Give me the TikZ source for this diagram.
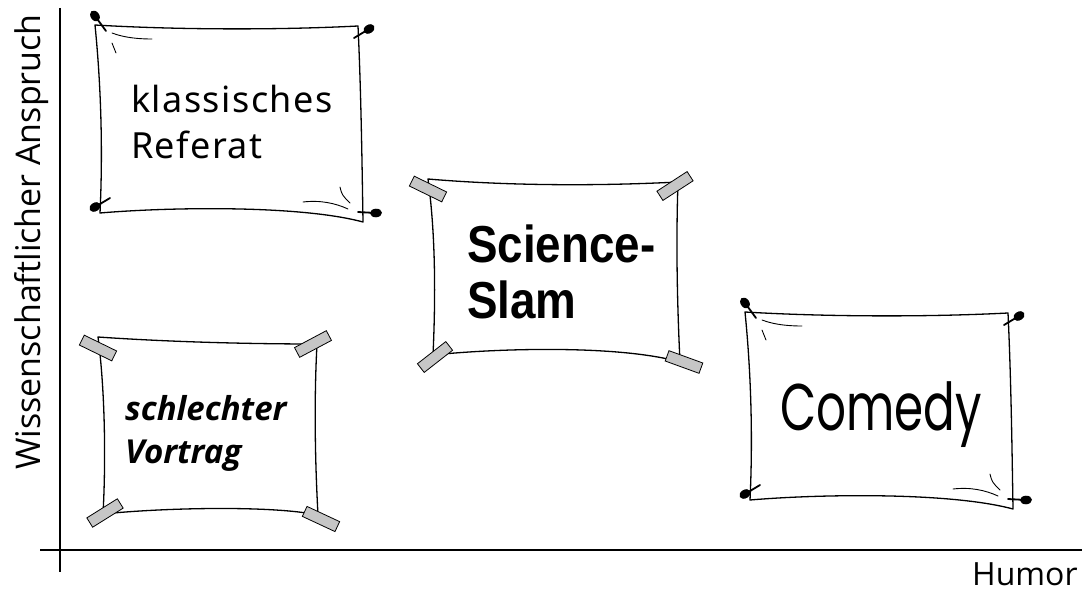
\documentclass[tikz,border=0pt]{standalone}
\usepackage{fontspec}
\newfontfamily\axisfont{Open Sans}
\newfontfamily\handfont[LetterSpace=4]{Noto Sans}
\newfontfamily\slamfont[FakeStretch=0.88]{Liberation Sans}
\newfontfamily\badfont{Open Sans}
\newfontfamily\comedyfont[FakeStretch=0.71]{Poppins}
\newcommand\pinat[3]{%
  \draw[needle] (#1) -- (#2);
  \fill[rotate around={#3:(#1)}] (#1) ellipse (6 and 4.3);}
\tikzset{
  axisline/.style={draw=black, line width=1.3pt},
  paperline/.style={draw=black, line width=1.3pt, fill=white, line join=round},
  crease/.style={draw=black, line width=0.9pt, line cap=round},
  needle/.style={draw=black, line width=1.8pt, line cap=round},
  tapebox/.style={draw=black, line width=0.8pt, fill=gray!45, minimum width=36pt, minimum height=11pt, inner sep=0pt},
  pinpaper/.pic={
    \path[paperline] (0,0) .. controls (85,5) and (185,5) .. (263,1)
      .. controls (266,65) and (267,135) .. (268,197)
      .. controls (205,180) and (75,182) .. (5,188)
      .. controls (8,125) and (6,60) .. (0,0) -- cycle;
    \draw[crease] (17,8) .. controls (30,13) and (45,14) .. (57,14);
    \draw[crease] (17,18) -- (21,28);
    \draw[crease] (208,177) .. controls (225,175) and (240,178) .. (253,184);
    \draw[crease] (245,162) .. controls (247,170) .. (255,178);
    \pinat{0,-9}{11,6}{-54}
    \pinat{274,4}{259,13}{31}
    \pinat{0,182}{15,173}{31}
    \pinat{281,188}{263,187}{3}
  }
}
\begin{document}
\begin{tikzpicture}[x=1pt,y=-1pt]
\useasboundingbox (0,0) rectangle (1086,594);
% axes
\coordinate (ytop) at (60,8);
\coordinate (ybot) at (60,572);
\coordinate (xleft) at (40,550);
\coordinate (xright) at (1082,550);
\draw[axisline] (ytop) -- (ybot);
\draw[axisline] (xleft) -- (xright);
\node[rotate=90, anchor=base, inner sep=0pt, font={\axisfont\fontsize{34}{40}\selectfont}] (ylabel) at (40,242) {Wissenschaftlicher Anspruch};
\node[anchor=base west, inner sep=0pt, font={\axisfont\fontsize{32}{38}\selectfont}] (xlabel) at (972,585) {Humor};

% klassisches Referat
\pic at (95,25) {pinpaper};
\node[anchor=base west, inner sep=0pt, align=left, font={\handfont\fontsize{36}{46}\selectfont}] (referat) at (131,158) {klassisches\\Referat};

% Comedy
\pic at (745,312) {pinpaper};
\node[anchor=base west, inner sep=0pt, font={\comedyfont\fontsize{66}{70}\selectfont}] (comedy) at (780,430) {Comedy};

% Science-Slam
\path[paperline] (428,179) .. controls (510,186) and (600,186) .. (678,182)
  .. controls (676,240) and (677,300) .. (680,362)
  .. controls (620,345) and (500,348) .. (433,355)
  .. controls (436,290) and (435,230) .. (428,179) -- cycle;
\node[tapebox, rotate=-26] (slamtl) at (428,189) {};
\node[tapebox, rotate=33] (slamtr) at (675,186) {};
\node[tapebox, rotate=38] (slambl) at (435,357) {};
\node[tapebox, rotate=-20] (slambr) at (684,362) {};
\node[anchor=base west, inner sep=0pt, align=left, font={\slamfont\bfseries\fontsize{52}{56}\selectfont}] (slam) at (467,318) {Science-\\Slam};

% schlechter Vortrag
\path[paperline] (98,337) .. controls (170,342) and (250,344) .. (317,344)
  .. controls (314,400) and (315,460) .. (318,515)
  .. controls (270,505) and (160,508) .. (103,514)
  .. controls (106,460) and (105,390) .. (98,337) -- cycle;
\node[tapebox, rotate=-26] (badtl) at (98,348) {};
\node[tapebox, rotate=28] (badtr) at (313,344) {};
\node[tapebox, rotate=32] (badbl) at (105,513) {};
\node[tapebox, rotate=-25] (badbr) at (321,519) {};
\node[anchor=base west, inner sep=0pt, align=left, font={\badfont\bfseries\itshape\fontsize{33}{43}\selectfont}] (vortrag) at (125,463) {schlechter\\Vortrag};
\end{tikzpicture}
\end{document}
